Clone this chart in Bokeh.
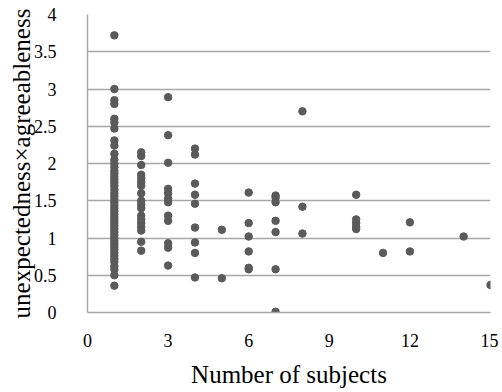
from bokeh.plotting import figure
from bokeh.models import FixedTicker, Range1d
from bokeh.embed import file_html
from bokeh.resources import INLINE

# Data
y1 = [3.72, 3.0, 2.85, 2.8, 2.6, 2.55, 2.47, 2.31, 2.24, 2.13, 2.05, 2.0, 1.95, 1.9,
      1.86, 1.82, 1.78, 1.74, 1.7, 1.65, 1.6, 1.56, 1.52, 1.48, 1.44, 1.4, 1.36, 1.32,
      1.28, 1.24, 1.2, 1.16, 1.12, 1.08, 1.04, 1.0, 0.96, 0.92, 0.88, 0.84, 0.8, 0.76,
      0.72, 0.68, 0.62, 0.58, 0.5, 0.36]
y2 = [2.15, 2.1, 1.98, 1.85, 1.8, 1.75, 1.7, 1.6, 1.5, 1.45, 1.4, 1.3, 1.25, 1.2,
      1.15, 1.1, 0.95, 0.83]
y3 = [2.89, 2.38, 2.01, 1.66, 1.6, 1.53, 1.48, 1.3, 1.23, 0.93, 0.87, 0.63]
y4 = [2.2, 2.12, 1.73, 1.58, 1.46, 1.14, 0.94, 0.8, 0.47]
y5 = [1.11, 0.46]
y6 = [1.61, 1.2, 1.02, 0.82, 0.6, 0.58]
y7 = [1.57, 1.54, 1.48, 1.23, 1.08, 0.58, 0.01]
y8 = [2.7, 1.42, 1.06]
y10 = [1.58, 1.25, 1.2, 1.15, 1.12]
y11 = [0.8]
y12 = [1.21, 0.82]
y14 = [1.02]
y15 = [0.37]

groups = {1: y1, 2: y2, 3: y3, 4: y4, 5: y5, 6: y6, 7: y7, 8: y8,
          10: y10, 11: y11, 12: y12, 14: y14, 15: y15}
xs, ys = [], []
for k, vals in groups.items():
    xs += [k] * len(vals)
    ys += vals

x_ticks = [0, 3, 6, 9, 12, 15]
y_ticks = [0, 0.5, 1, 1.5, 2, 2.5, 3, 3.5, 4]

FONT = "Liberation Serif"
GRID = "#a6a6a6"

p = figure(frame_width=403, frame_height=298, output_backend="svg",
           toolbar_location=None, x_range=Range1d(0, 15), y_range=Range1d(0, 4),
           min_border_left=87, min_border_right=8, min_border_top=14,
           min_border_bottom=76)
p.outline_line_color = None
p.background_fill_color = "white"

p.scatter(xs, ys, size=7.5, color="#5a5a5a")

p.xgrid.visible = False
p.ygrid.ticker = FixedTicker(ticks=y_ticks)
p.ygrid.grid_line_color = GRID
p.ygrid.grid_line_width = 1.5

p.xaxis.ticker = FixedTicker(ticks=x_ticks)
p.yaxis.ticker = FixedTicker(ticks=y_ticks)
p.yaxis.formatter.use_scientific = False

for ax in (p.xaxis[0], p.yaxis[0]):
    ax.axis_line_color = GRID
    ax.axis_line_width = 1.5
    ax.major_tick_line_color = None
    ax.minor_tick_line_color = None
    ax.major_label_text_font = FONT
    ax.major_label_text_font_size = "18px"
    ax.major_label_text_color = "black"
    ax.axis_label_text_font = FONT
    ax.axis_label_text_font_size = "25px"
    ax.axis_label_text_font_style = "normal"
    ax.axis_label_text_color = "black"

p.xaxis.axis_label = "Number of subjects"
p.yaxis.axis_label = "unexpectedness×agreeableness"
p.xaxis.major_label_standoff = 15
p.xaxis.axis_label_standoff = 11
p.yaxis.major_label_standoff = 25
p.yaxis.axis_label_standoff = -4

open("out.html", "w").write(file_html(p, INLINE))
